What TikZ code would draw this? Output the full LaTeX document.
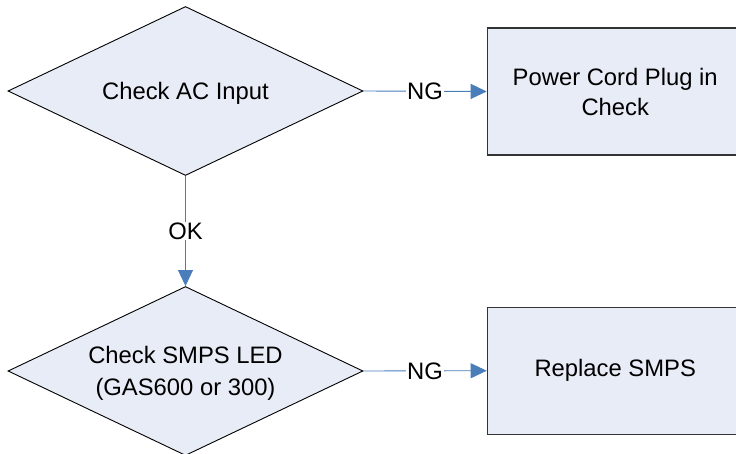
\documentclass[tikz,border=0pt]{standalone}
\usepackage{fontspec}
\setmainfont{Liberation Sans}
\usetikzlibrary{shapes.geometric,arrows.meta}
\definecolor{shapefill}{RGB}{232,236,247}
\definecolor{linkblue}{RGB}{74,126,187}
\begin{document}
\begin{tikzpicture}[x=1pt,y=-1pt,
  every node/.style={font=\fontsize{23.8}{30}\selectfont},
  decision/.style={shape=diamond, draw=black, line width=0.9pt, fill=shapefill,
    minimum width=355pt, minimum height=169pt, inner sep=0pt},
  dtext/.style={align=center, inner sep=0pt, yshift=-2pt, font=\fontsize{23.8}{32}\selectfont},
  action/.style={shape=rectangle, draw=black!80, line width=1.1pt, fill=shapefill,
    minimum width=256pt, minimum height=127pt, inner sep=0pt, align=center, anchor=west},
  link/.style={draw=linkblue, line width=0.9pt, -{Triangle[length=16pt,width=15pt]}},
  lbl/.style={fill=white, inner sep=1pt}]
\useasboundingbox (0,0) rectangle (736,454);
\clip (0,0) rectangle (736,454);
\node[decision] (d1) at (185.5,91) {};
\node[dtext] (t1) at (d1.center) {Check AC Input};
\node[decision] (d2) at (185.5,371) {};
\node[dtext] (t2) at (d2.center) {Check SMPS LED\\(GAS600 or 300)};
\node[action] (b1) at (486.7,91.5) {Power Cord Plug in\\Check};
\node[action] (b2) at (486.7,370.7) {Replace SMPS};
\draw[link] (d1.east) -- node[lbl] {NG} (b1.west);
\draw[link] (d2.east) -- node[lbl] {NG} (b2.west);
\draw[link] (d1.south) -- node[lbl] {OK} (d2.north);
\end{tikzpicture}
\end{document}
